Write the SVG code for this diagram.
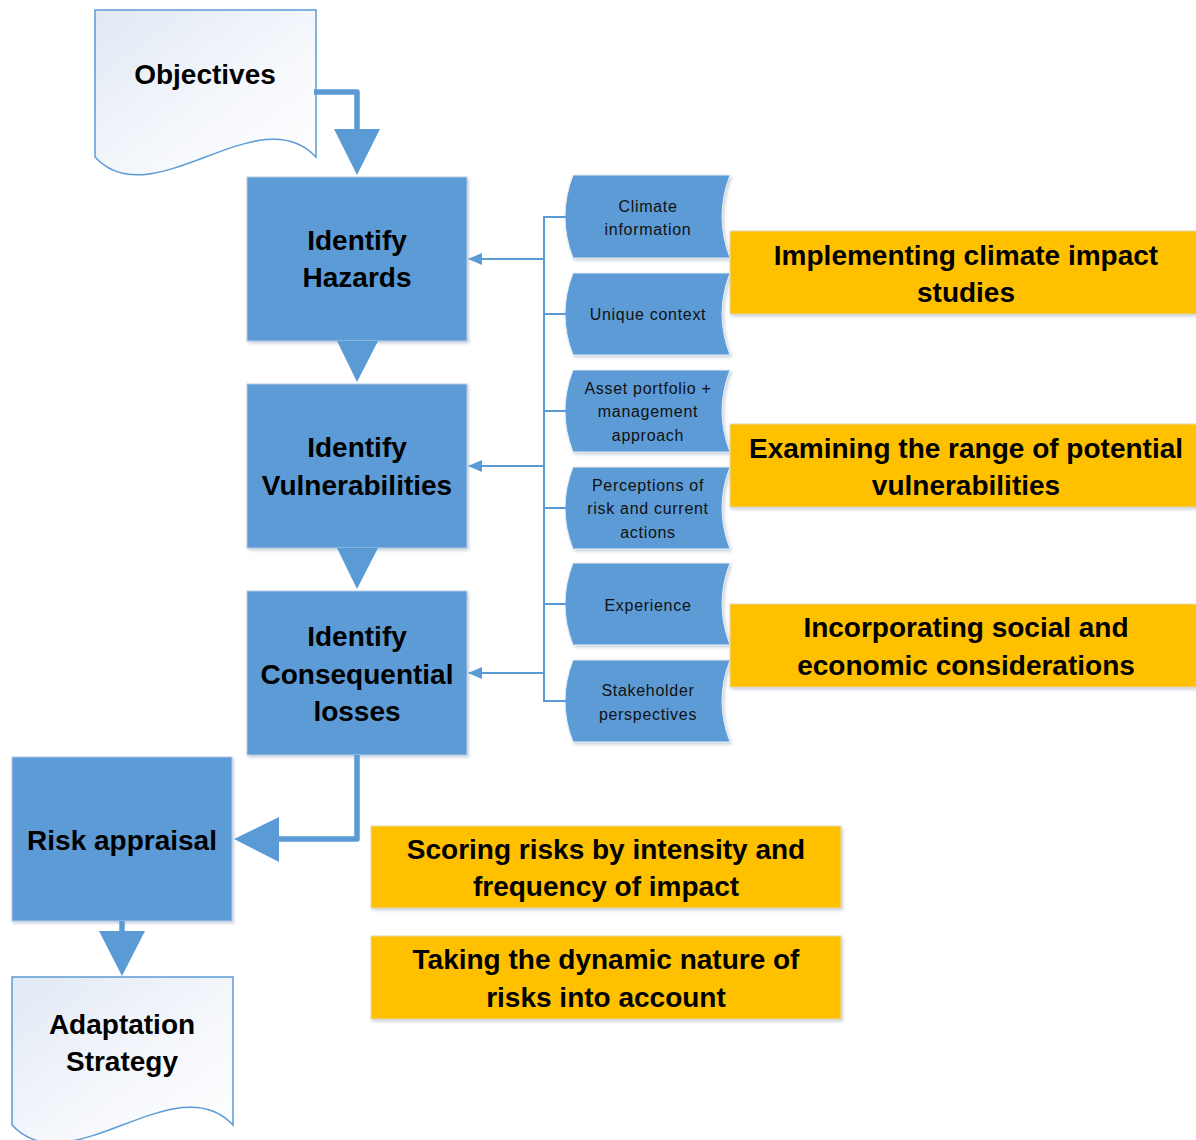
<svg xmlns="http://www.w3.org/2000/svg" width="1196" height="1140" viewBox="0 0 1196 1140">
<defs>
<linearGradient id="docGrad" x1="0" y1="0" x2="1" y2="1">
<stop offset="0" stop-color="#E1E9F4"/>
<stop offset="0.6" stop-color="#F6F8FC"/>
<stop offset="1" stop-color="#FFFFFF"/>
</linearGradient>
<filter id="shadow" x="-10%" y="-10%" width="125%" height="125%">
<feDropShadow dx="1.5" dy="2" stdDeviation="1.5" flood-color="#8A9BB0" flood-opacity="0.45"/>
</filter>
<marker id="arr" viewBox="0 0 14 12" refX="13" refY="6" markerWidth="14" markerHeight="12" markerUnits="userSpaceOnUse" orient="auto">
<path d="M0,0 L14,6 L0,12 Z" fill="#5B9BD5"/>
</marker>
</defs>
<style>
.doc{fill:url(#docGrad);stroke:#5B9BD5;stroke-width:1.5}
.box{fill:#5B9BD5;stroke:#B4CBE6;stroke-width:1;filter:url(#shadow)}
.card{fill:#5B9BD5;stroke:#E8EEF6;stroke-width:1;filter:url(#shadow)}
.ybox{fill:#FFC000;stroke:#E6D9B0;stroke-width:1;filter:url(#shadow)}
.big{font-family:"Liberation Sans",Arial,sans-serif;font-weight:bold;font-size:28px;fill:#000;text-anchor:middle}
.small{font-family:"Liberation Sans",Arial,sans-serif;font-size:16px;letter-spacing:0.7px;fill:#111;text-anchor:middle}
.thick{fill:none;stroke:#5B9BD5;stroke-width:5.5;stroke-linejoin:round}
.thin{fill:none;stroke:#5B9BD5;stroke-width:2}
.head{fill:#5B9BD5}
</style>

<g id="node-objectives">
<path class="doc" d="M95,10 H316 V157 C259,95 152,219 95,157 Z"/>
<text class="big" x="205" y="84">Objectives</text>
</g>

<g id="node-hazards">
<rect class="box" x="247" y="177" width="220" height="164"/>
<text class="big" x="357" y="250">Identify</text>
<text class="big" x="357" y="287">Hazards</text>
</g>

<g id="node-vulnerabilities">
<rect class="box" x="247" y="384" width="220" height="164"/>
<text class="big" x="357" y="457">Identify</text>
<text class="big" x="357" y="495">Vulnerabilities</text>
</g>

<g id="node-consequential">
<rect class="box" x="247" y="591" width="220" height="164"/>
<text class="big" x="357" y="646">Identify</text>
<text class="big" x="357" y="684">Consequential</text>
<text class="big" x="357" y="721">losses</text>
</g>

<g id="node-risk">
<rect class="box" x="12" y="757" width="220" height="164"/>
<text class="big" x="122" y="850">Risk appraisal</text>
</g>

<g id="node-adaptation">
<path class="doc" d="M12,977 H233 V1125 C176,1063 69,1187 12,1125 Z"/>
<text class="big" x="122" y="1034">Adaptation</text>
<text class="big" x="122" y="1071">Strategy</text>
</g>

<g id="node-climate">
<path class="card" d="M573,175 H730 Q714,216.5 730,258 H573 Q557,216.5 573,175 Z"/>
<text class="small" x="648" y="212">Climate</text>
<text class="small" x="648" y="235">information</text>
</g>
<g id="node-context">
<path class="card" d="M573,273 H730 Q714,314 730,355 H573 Q557,314 573,273 Z"/>
<text class="small" x="648" y="320">Unique context</text>
</g>
<g id="node-asset">
<path class="card" d="M573,370 H730 Q714,411 730,452 H573 Q557,411 573,370 Z"/>
<text class="small" x="648" y="394">Asset portfolio +</text>
<text class="small" x="648" y="417">management</text>
<text class="small" x="648" y="441">approach</text>
</g>
<g id="node-perceptions">
<path class="card" d="M573,467 H730 Q714,508 730,549 H573 Q557,508 573,467 Z"/>
<text class="small" x="648" y="491">Perceptions of</text>
<text class="small" x="648" y="514">risk and current</text>
<text class="small" x="648" y="538">actions</text>
</g>
<g id="node-experience">
<path class="card" d="M573,563 H730 Q714,604 730,645 H573 Q557,604 573,563 Z"/>
<text class="small" x="648" y="611">Experience</text>
</g>
<g id="node-stakeholder">
<path class="card" d="M573,660 H730 Q714,701 730,742 H573 Q557,701 573,660 Z"/>
<text class="small" x="648" y="696">Stakeholder</text>
<text class="small" x="648" y="720">perspectives</text>
</g>

<g id="node-implementing">
<rect class="ybox" x="730" y="231" width="470" height="83"/>
<text class="big" x="966" y="265">Implementing climate impact</text>
<text class="big" x="966" y="302">studies</text>
</g>
<g id="node-examining">
<rect class="ybox" x="730" y="424" width="470" height="83"/>
<text class="big" x="966" y="458">Examining the range of potential</text>
<text class="big" x="966" y="495">vulnerabilities</text>
</g>
<g id="node-incorporating">
<rect class="ybox" x="730" y="604" width="470" height="83"/>
<text class="big" x="966" y="637">Incorporating social and</text>
<text class="big" x="966" y="675">economic considerations</text>
</g>
<g id="node-scoring">
<rect class="ybox" x="371" y="826" width="470" height="82"/>
<text class="big" x="606" y="859">Scoring risks by intensity and</text>
<text class="big" x="606" y="896">frequency of impact</text>
</g>
<g id="node-taking">
<rect class="ybox" x="371" y="936" width="470" height="83"/>
<text class="big" x="606" y="969">Taking the dynamic nature of</text>
<text class="big" x="606" y="1007">risks into account</text>
</g>

<g id="connectors">
<path class="thick" d="M314,92 H357 V131"/>
<path class="head" d="M334,129 H380 L357,175 Z"/>
<path class="head" d="M337,341 H378 L357,382 Z"/>
<path class="head" d="M337,548 H378 L357,589 Z"/>
<path class="thick" d="M357,755 V839 H276"/>
<path class="head" d="M279,817 V862 L234,839 Z"/>
<path class="thick" d="M122,921 V933"/>
<path class="head" d="M99,931 H145 L122,976 Z"/>
<path class="thin" d="M566,217 H544 V701 H566"/>
<path class="thin" d="M544,314 H566 M544,411 H566 M544,508 H566 M544,604 H566"/>
<path class="thin" d="M544,259 H469" marker-end="url(#arr)"/>
<path class="thin" d="M544,466 H469" marker-end="url(#arr)"/>
<path class="thin" d="M544,673 H469" marker-end="url(#arr)"/>
</g>
</svg>
